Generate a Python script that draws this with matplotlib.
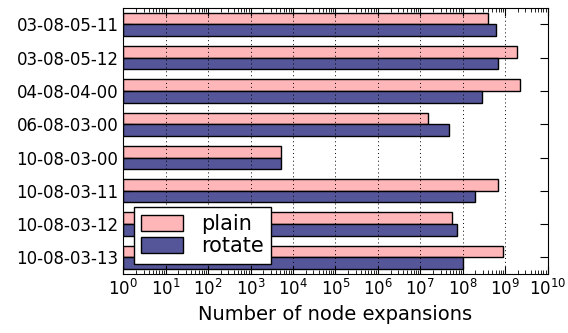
import numpy as np
import matplotlib
matplotlib.use("Agg")
import matplotlib.pyplot as plt
from matplotlib.ticker import LogLocator


# -------------------------
# DATA
# -------------------------
instances = ["03-08-05-11", "03-08-05-12", "04-08-04-00", "06-08-03-00",
             "10-08-03-00", "10-08-03-11", "10-08-03-12", "10-08-03-13"]
plain = [3.9e8, 1.9e9, 2.3e9, 1.5e7, 5.3e3, 6.9e8, 5.5e7, 9.0e8]
rotate = [6.0e8, 6.9e8, 2.9e8, 4.7e7, 5.3e3, 1.9e8, 7.2e7, 1.02e8]


# -------------------------
# PLOT
# -------------------------
fig = plt.figure(figsize=(5.68, 3.33), dpi=100)
ax = fig.add_axes([0.217, 0.177, 0.747, 0.8])

y = np.arange(len(instances))
h = 0.35

ax.barh(y - h / 2, plain, height=h, left=1, color="#ffb6b9",
        edgecolor="black", linewidth=1, label="plain", zorder=2)
ax.barh(y + h / 2, rotate, height=h, left=1, color="#555599",
        edgecolor="black", linewidth=1, label="rotate", zorder=2)

ax.set_xscale("log")
ax.set_xlim(1, 1e10)
ax.set_ylim(len(instances) - 0.5, -0.5)
ax.set_yticks(y)
ax.set_yticklabels(instances, fontsize=12)
ax.xaxis.set_major_locator(LogLocator(base=10, numticks=20))
ax.xaxis.set_minor_locator(LogLocator(base=10, subs=np.arange(2, 10), numticks=20))
ax.tick_params(axis="x", labelsize=12)
ax.set_xlabel("Number of node expansions", fontsize=14)

ax.tick_params(which="both", direction="in", top=True, right=True)
ax.tick_params(which="major", length=6)
ax.tick_params(which="minor", length=3)
ax.grid(axis="x", which="major", linestyle=(0, (1, 3)), color="black",
        linewidth=0.7, zorder=3)
ax.set_axisbelow(False)

leg = ax.legend(loc="lower left", fontsize=15, fancybox=False, framealpha=1,
                edgecolor="black", borderaxespad=0.5, borderpad=0.35,
                handlelength=2.0, handleheight=0.75,
                handletextpad=0.9, labelspacing=0.1)
leg.get_frame().set_linewidth(1)

plt.savefig("out.png", dpi=100)
